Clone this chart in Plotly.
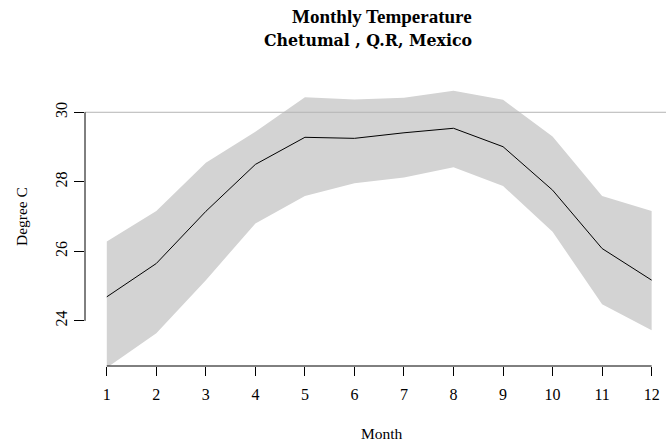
import plotly.graph_objects as go

months = [1, 2, 3, 4, 5, 6, 7, 8, 9, 10, 11, 12]
mean_temp = [24.69, 25.65, 27.15, 28.50, 29.28, 29.25, 29.41, 29.54, 29.01, 27.76, 26.08, 25.17]
upper_temp = [26.28, 27.16, 28.55, 29.44, 30.43, 30.37, 30.42, 30.62, 30.36, 29.30, 27.59, 27.16]
lower_temp = [22.65, 23.64, 25.17, 26.80, 27.59, 27.96, 28.12, 28.42, 27.88, 26.56, 24.48, 23.73]
y_ticks = [24, 26, 28, 30]
ref_level = 30

FONT = "Liberation Serif"
W, H = 666, 442
l, r, t, b = 85, 0, 81, 76
pw, ph = W - l - r, H - t - b


def px(xp):
    return (xp - l) / pw


def py(yp):
    return (H - b - yp) / ph


fig = go.Figure()
fig.add_trace(go.Scatter(
    x=months + months[::-1],
    y=upper_temp + lower_temp[::-1],
    fill="toself", fillcolor="#d3d3d3",
    line=dict(width=0), mode="lines", hoverinfo="skip", showlegend=False,
))
fig.add_trace(go.Scatter(
    x=months, y=mean_temp, mode="lines",
    line=dict(color="black", width=1), showlegend=False,
))

fig.add_shape(type="line", xref="paper", yref="y", x0=0, x1=1, y0=ref_level, y1=ref_level,
              line=dict(color="#b4b4b4", width=1), layer="above")
# R-style axis lines spanning only the tick range
fig.add_shape(type="line", xref="x", yref="paper", x0=months[0], x1=months[-1], y0=0, y1=0,
              line=dict(color="black", width=1))
fig.add_shape(type="line", xref="paper", yref="y", x0=0, x1=0, y0=y_ticks[0], y1=y_ticks[-1],
              line=dict(color="black", width=1))

fig.update_layout(
    width=W, height=H,
    margin=dict(l=l, r=r, t=t, b=b),
    plot_bgcolor="white", paper_bgcolor="white",
    font=dict(family=FONT, size=15.5, color="black"),
    xaxis=dict(range=[0.56, 12.29], tickvals=months, ticks="outside", ticklen=9,
               tickcolor="black", showgrid=False, zeroline=False, showline=False,
               ticklabelstandoff=5, tickfont=dict(family=FONT, size=16)),
    yaxis=dict(range=[22.70, 30.9], tickvals=y_ticks, ticks="outside", ticklen=10,
               tickcolor="black", showgrid=False, zeroline=False, showline=False,
               tickangle=-90, ticklabelstandoff=1, tickfont=dict(family=FONT, size=16)),
    annotations=[
        dict(text="<b>Monthly Temperature</b>", x=px(382), y=py(17), xref="paper", yref="paper",
             xanchor="center", yanchor="middle", showarrow=False, font=dict(family=FONT, size=19)),
        dict(text="<b>Chetumal , Q.R, Mexico</b>", x=px(368), y=py(40), xref="paper", yref="paper",
             xanchor="center", yanchor="middle", showarrow=False,
             font=dict(family="DejaVu Serif", size=15.8)),
        dict(text="Month", x=px(382), y=py(433), xref="paper", yref="paper",
             xanchor="center", yanchor="middle", showarrow=False, font=dict(family=FONT, size=15.5)),
        dict(text="Degree C", x=px(21), y=py(217), xref="paper", yref="paper", textangle=-90,
             xanchor="center", yanchor="middle", showarrow=False, font=dict(family=FONT, size=15.5)),
    ],
)

fig.write_html("out.html", config={"displayModeBar": False},
               post_script="document.body.style.margin='0px';")
